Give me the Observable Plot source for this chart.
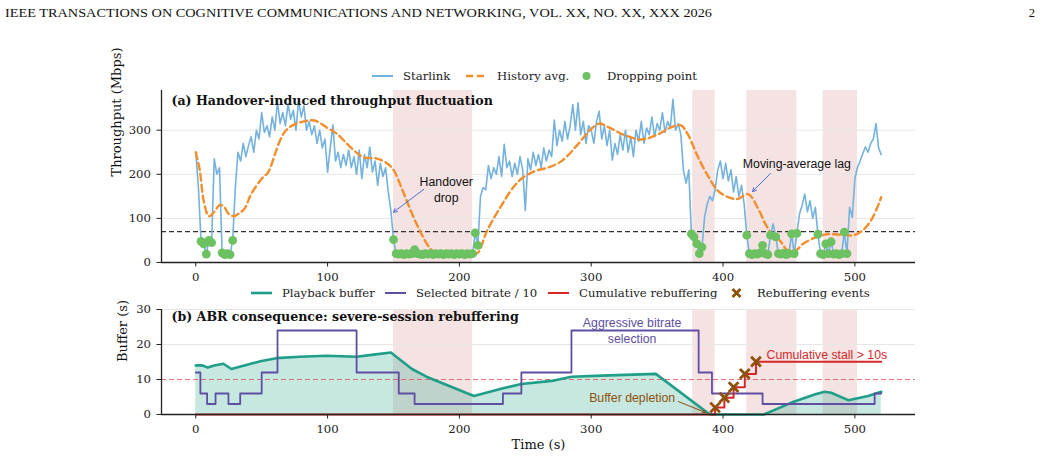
<!DOCTYPE html>
<html><head><meta charset="utf-8">
<script src="https://cdn.jsdelivr.net/npm/d3@7"></script>
<script src="https://cdn.jsdelivr.net/npm/@observablehq/plot@0.6"></script>
<style>
body{margin:0;background:#fff;}
#wrap{position:relative;width:1041px;height:461px;overflow:hidden;background:#fff;}
#wrap > svg{position:absolute;left:0;}
</style></head><body><div id="wrap"></div>
<script>
// ---------------- DATA ----------------
const headerText = "IEEE TRANSACTIONS ON COGNITIVE COMMUNICATIONS AND NETWORKING, VOL. XX, NO. XX, XXX 2026";
const pageNumber = "2";
const titleA = "(a) Handover-induced throughput fluctuation";
const titleB = "(b) ABR consequence: severe-session rebuffering";
const xTicks = [0, 100, 200, 300, 400, 500];
const thrTicks = [0, 100, 200, 300];
const bufTicks = [0, 10, 20, 30];
const xDomain = [-26, 546];
const thrDomain = [0, 390];
const bufDomain = [0, 30];
const thresholdMbps = 70;
const bufferRef = 10;

// Starlink throughput (Mbps), one sample every 2 s from t = 0 to 520
const sampleStep = 2;
const starlinkMbps = [
  250,170,48,42,19,50,45,235,200,215,
  22,18,20,18,50,170,250,230,270,240,
  265,285,250,300,280,340,295,310,285,330,
  300,365,315,340,310,360,325,345,300,368,
  330,355,300,320,290,310,270,300,260,280,
  205,260,312,230,250,215,245,220,255,215,
  240,200,255,190,245,215,262,205,230,175,
  225,195,215,160,118,52,20,19,20,18,
  20,19,20,29,20,19,18,20,19,20,
  18,20,19,20,18,20,19,20,18,20,
  19,20,18,20,19,20,67,39,150,170,
  165,220,190,215,200,240,195,268,215,230,
  195,225,200,240,210,118,235,210,250,220,
  245,215,260,230,255,240,323,265,300,275,
  320,280,310,358,300,362,290,320,270,310,
  300,270,320,343,280,310,265,300,232,270,
  245,290,255,300,250,285,240,300,275,320,
  270,305,290,330,285,315,300,340,295,320,
  305,370,300,315,290,208,180,210,65,58,
  43,20,35,103,133,150,140,165,210,230,
  190,225,185,210,160,195,150,175,133,62,
  20,18,20,19,22,39,20,18,62,88,
  58,20,19,21,18,20,65,20,66,110,
  130,155,115,140,100,125,64,20,18,42,
  20,47,19,20,18,20,69,20,125,102,
  190,216,230,247,262,250,270,280,315,260,
  245
];

// History (moving) average
const histT = [0,3,6,10,14,18,21,25,29,33,37,42,50,55,60,64,68,74,82,90,100,107,120,128,137,145,150,156,163,170,177,182,190,200,210,214,221,231,241,248,258,268,278,289,299,306,313,325,338,351,361,368,373,381,389,396,404,411,419,427,432,437,443,449,455,461,471,479,490,499,506,513,520];
const histV = [250,210,140,105,115,130,128,110,105,112,122,155,190,205,245,277,298,312,320,322,305,292,254,238,236,225,210,170,118,72,35,22,19,19,19,22,72,125,171,192,208,216,231,265,300,315,307,289,279,291,307,311,292,239,194,163,148,144,155,120,88,65,50,28,27,43,58,64,63,62,73,99,148];

// Shaded handover windows (s)
const shadeStart = [150, 377, 418, 476];
const shadeEnd   = [210, 394, 456, 502];

// Playback buffer (s)
const bufT = [0,3,6,9,14,21,27,34,49,61,79,99,122,135,148,164,175,211,231,247,270,285,308,349,389,391,431,452,470,477,482,495,510,520];
const bufV = [14.0,14.1,13.9,13.4,14.0,14.5,13.0,13.7,15.2,16.1,16.5,16.8,16.5,17.1,17.7,13.0,10.8,5.3,7.3,8.7,9.6,10.8,11.1,11.6,0.3,0,0,3.4,5.8,6.5,6.2,4.1,5.3,6.5];

// Selected bitrate / 10 (step changes)
const brT = [0,3.5,8.6,15,24.8,33.7,50,62,122,154,166,233,247,285,381.5,391.6,430,515,520];
const brV = [12,6,3,6,3,6,12,24,12,6,3,6,12,24,12,6,3,6,6];

// Cumulative rebuffering (s)
const cumT = [0,394,401,408,416.5,425,520];
const cumV = [0,2.0,4.8,7.8,11.6,15.1,15.1];
// Rebuffering events
const evT = [394,401,408,416.5,425];
const evV = [2.0,4.8,7.8,11.6,15.1];

// Annotations (data coordinates)
const notesA = [
  {text:"Handover\ndrop", t:190, v:168, t1:173, v1:166, t2:150, v2:114},
  {text:"Moving-average lag", t:456, v:227, t1:436, v1:202, t2:422.4, v2:161}
];
const noteBitrate = [{text:"Aggressive bitrate\nselection", t:331, v:24.1}];
const noteStall = [{text:"Cumulative stall > 10s", t:433, v:17.1}];
const noteDepletion = [{text:"Buffer depletion", t:331, v:4.6}];
const depletionArrow = [{t1:366, v1:3.7, t2:386.6, v2:0.6}];

// ---------------- TABLES ----------------
const starlink = starlinkMbps.map((v, i) => ({t: i * sampleStep, v}));
const drops = starlink.filter(d => d.v < thresholdMbps);
const hist = histT.map((t, i) => ({t, v: histV[i]}));
const shades = shadeStart.map((s, i) => ({start: s, end: shadeEnd[i]}));
const buffer = bufT.map((t, i) => ({t, v: bufV[i]}));
const bitrate = brT.map((t, i) => ({t, v: brV[i]}));
const cum = cumT.map((t, i) => ({t, v: cumV[i]}));
const events = evT.map((t, i) => ({t, v: evV[i]}));

const C = {
  blue:"#74b2dd", orange:"#f28e2b", green:"#6cc160", teal:"#1f9e89",
  purple:"#5e4fa2", red:"#d62728", brown:"#8c510a", shade:"#f5e3e3", grid:"#e6e6e6", arrow:"#4a6fd0"
};
const FONT = "DejaVu Serif";
const SANS = "Liberation Sans";
const fs = 11.7;
const wrap = document.getElementById("wrap");

// ---------------- PANEL A ----------------
const plotA = Plot.plot({
  width: 1041, height: 205,
  marginTop: 10, marginBottom: 23, marginLeft: 161, marginRight: 126,
  x: {domain: xDomain},
  y: {domain: thrDomain},
  style: {fontFamily: FONT, fontSize: fs + "px", color: "#222", background: "transparent", overflow: "visible"},
  marks: [
    Plot.rect(shades, {x1: "start", x2: "end", fill: C.shade}),
    Plot.gridY(thrTicks.filter(d => d > 0), {stroke: C.grid, strokeOpacity: 1, strokeWidth: 1}),
    Plot.ruleY([thresholdMbps], {stroke: "#333", strokeDasharray: "5,3", strokeWidth: 1.1}),
    Plot.line(starlink, {x: "t", y: "v", stroke: C.blue, strokeWidth: 1.6}),
    Plot.line(hist, {x: "t", y: "v", stroke: C.orange, strokeWidth: 2.4, strokeDasharray: "7,4", curve: "catmull-rom"}),
    Plot.dot(drops, {x: "t", y: "v", r: 4.4, fill: C.green}),
    Plot.arrow(notesA, {x1: "t1", y1: "v1", x2: "t2", y2: "v2", stroke: C.arrow, strokeWidth: 1, headLength: 6}),
    Plot.text(notesA, {x: "t", y: "v", text: "text", fontFamily: SANS, fontSize: 12.3, fill: "#111", lineHeight: 1.3}),
    Plot.text([titleA], {frameAnchor: "top-left", dx: 10, dy: 10, lineAnchor: "middle", textAnchor: "start", fontWeight: "bold", fontSize: 12.6, fill: "#111"}),
    Plot.text(["Throughput (Mbps)"], {frameAnchor: "left", rotate: -90, dx: -45, fontSize: 13, fill: "#111"}),
    Plot.axisX({ticks: xTicks, tickSize: 4.5, tickPadding: 6, label: null, tickFormat: d => d}),
    Plot.axisY({ticks: thrTicks, tickSize: 4.5, tickPadding: 6, label: null}),
    Plot.ruleX([xDomain[0]], {stroke: "#222", strokeWidth: 1.3}),
    Plot.ruleY([thrDomain[0]], {stroke: "#222", strokeWidth: 1.3})
  ]
});
plotA.style.top = "80px";
wrap.appendChild(plotA);

// ---------------- PANEL B ----------------
const plotB = Plot.plot({
  width: 1041, height: 161,
  marginTop: 9, marginBottom: 47, marginLeft: 161, marginRight: 126,
  x: {domain: xDomain},
  y: {domain: bufDomain},
  style: {fontFamily: FONT, fontSize: fs + "px", color: "#222", background: "transparent", overflow: "visible"},
  marks: [
    Plot.rect(shades, {x1: "start", x2: "end", fill: C.shade}),
    Plot.gridY(bufTicks.filter(d => d > 0 && d !== bufferRef), {stroke: C.grid, strokeOpacity: 1, strokeWidth: 1}),
    Plot.areaY(buffer, {x: "t", y: "v", fill: C.teal, fillOpacity: 0.25}),
    Plot.ruleY([bufferRef], {stroke: "#e05a5a", strokeOpacity: 0.85, strokeDasharray: "5,3", strokeWidth: 1.2}),
    Plot.line(buffer, {x: "t", y: "v", stroke: C.teal, strokeWidth: 2.6}),
    Plot.line(bitrate, {x: "t", y: "v", stroke: C.purple, strokeWidth: 1.8, curve: "step-after"}),
    Plot.line(cum, {x: "t", y: "v", stroke: C.red, strokeWidth: 2, curve: "step-after"}),
    Plot.dot(events, {x: "t", y: "v", symbol: "times", r: 4.5, stroke: C.brown, strokeWidth: 2.8}),
    Plot.arrow(depletionArrow, {x1: "t1", y1: "v1", x2: "t2", y2: "v2", stroke: C.brown, strokeWidth: 1, headLength: 5}),
    Plot.text(noteBitrate, {x: "t", y: "v", text: "text", fill: C.purple, textAnchor: "middle", fontFamily: SANS, fontSize: 12.3, lineHeight: 1.25}),
    Plot.text(noteStall, {x: "t", y: "v", text: "text", fill: C.red, textAnchor: "start", fontFamily: SANS, fontSize: 12.3}),
    Plot.text(noteDepletion, {x: "t", y: "v", text: "text", fill: C.brown, textAnchor: "middle", fontFamily: SANS, fontSize: 12.3}),
    Plot.text([titleB], {frameAnchor: "top-left", dx: 10, dy: 7, lineAnchor: "middle", textAnchor: "start", fontWeight: "bold", fontSize: 12.6, fill: "#111"}),
    Plot.text(["Buffer (s)"], {frameAnchor: "left", rotate: -90, dx: -39, fontSize: 13, fill: "#111"}),
    Plot.text(["Time (s)"], {frameAnchor: "bottom", dy: 34, fontSize: 13, fill: "#111"}),
    Plot.axisX({ticks: xTicks, tickSize: 4.5, tickPadding: 6, label: null, tickFormat: d => d}),
    Plot.axisY({ticks: bufTicks, tickSize: 4.5, tickPadding: 6, label: null}),
    Plot.ruleX([xDomain[0]], {stroke: "#222", strokeWidth: 1.3}),
    Plot.ruleY([bufDomain[0]], {stroke: "#222", strokeWidth: 1.3})
  ]
});
plotB.style.top = "300px";
wrap.appendChild(plotB);

// ---------------- HEADER + LEGENDS (overlay) ----------------
const ov = d3.create("svg").attr("width", 1041).attr("height", 461)
  .style("position", "absolute").style("top", "0px").style("left", "0px").style("pointer-events", "none");
ov.append("text").attr("x", 5).attr("y", 17).attr("font-family", "Liberation Serif").attr("font-size", 12.5)
  .attr("textLength", 707).attr("lengthAdjust", "spacingAndGlyphs").attr("fill", "#111").text(headerText);
ov.append("text").attr("x", 1035).attr("y", 17).attr("text-anchor", "end").attr("font-family", "Liberation Serif")
  .attr("font-size", 12.5).attr("fill", "#111").text(pageNumber);

function legend(y, items) {
  const g = ov.append("g").attr("font-family", FONT).attr("font-size", fs).attr("fill", "#222");
  for (const it of items) {
    const x0 = it.x, x1 = it.x + 21;
    if (it.kind === "line" || it.kind === "dash") {
      g.append("line").attr("x1", x0).attr("x2", x1).attr("y1", y).attr("y2", y)
        .attr("stroke", it.color).attr("stroke-width", it.w || 2)
        .attr("stroke-dasharray", it.kind === "dash" ? "7,4" : null);
    } else if (it.kind === "dot") {
      g.append("circle").attr("cx", (x0 + x1) / 2).attr("cy", y).attr("r", 4).attr("fill", it.color);
    } else if (it.kind === "x") {
      const cx = (x0 + x1) / 2, s = 4;
      g.append("path").attr("d", `M${cx - s},${y - s}L${cx + s},${y + s}M${cx - s},${y + s}L${cx + s},${y - s}`)
        .attr("stroke", it.color).attr("stroke-width", 2.8);
    }
    g.append("text").attr("x", x1 + 10).attr("y", y).attr("dy", "0.35em").text(it.label);
  }
}
legend(76, [
  {x: 372, kind: "line", color: C.blue, label: "Starlink", w: 2},
  {x: 466, kind: "dash", color: C.orange, label: "History avg.", w: 2.4},
  {x: 576, kind: "dot", color: C.green, label: "Dropping point"}
]);
legend(293, [
  {x: 251, kind: "line", color: C.teal, label: "Playback buffer", w: 2.6},
  {x: 385, kind: "line", color: C.purple, label: "Selected bitrate / 10", w: 2},
  {x: 548, kind: "line", color: C.red, label: "Cumulative rebuffering", w: 2},
  {x: 726, kind: "x", color: C.brown, label: "Rebuffering events"}
]);
wrap.appendChild(ov.node());
</script></body></html>
